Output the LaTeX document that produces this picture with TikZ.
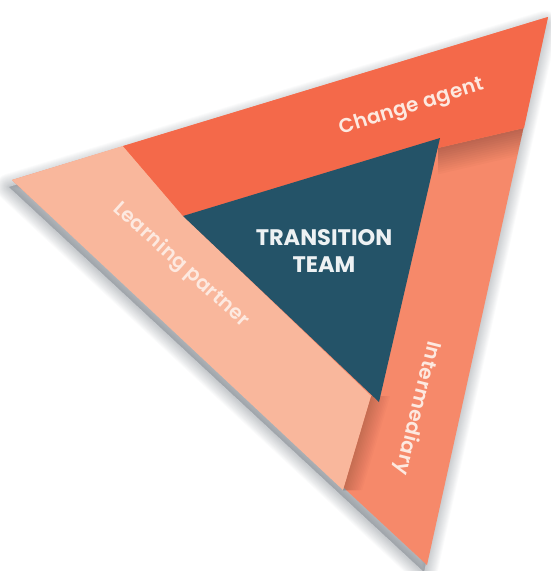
\documentclass[tikz,border=0pt]{standalone}
\usepackage{fontspec}
\newfontfamily\pop{Poppins}[UprightFont=* SemiBold, LetterSpace=2]
\newfontfamily\popb{Poppins}
\definecolor{cagent}{HTML}{F4694A}
\definecolor{lpartner}{HTML}{F9B79C}
\definecolor{interm}{HTML}{F6896A}
\definecolor{teal}{HTML}{245368}
\definecolor{bandtxt}{HTML}{FDE9E0}
\definecolor{shadowc}{HTML}{3A4550}
\tikzset{
  bandtext/.style={font=\pop\fontsize{20}{24}\selectfont, text=bandtxt, inner sep=0pt},
  titletext/.style={font=\popb\bfseries\fontsize{22.5}{27}\selectfont, text=white!92!teal, align=center, inner sep=0pt}
}
\begin{document}
\begin{tikzpicture}[x=1pt,y=-1pt]
\useasboundingbox (0,0) rectangle (551,571);
% corner coordinates
\coordinate (TR) at (548,17);
\coordinate (L) at (12,180);
\coordinate (B) at (427,565);
\coordinate (ca1) at (123,146);
\coordinate (ca2) at (524,128);
\coordinate (ca3) at (438,148);
\coordinate (lp1) at (343,490);
\coordinate (lp2) at (371,396);
\coordinate (tL) at (183,216);
\coordinate (tT) at (440,138);
\coordinate (tB) at (379,402);
% soft drop shadow
\foreach \k in {1,...,14}{
  \filldraw[shadowc, opacity=0.024, line width=\k*1.9pt, line join=round]
    ([shift={(-3,7)}]TR) -- ([shift={(-3,7)}]L) -- ([shift={(-3,7)}]B) -- cycle;
}
% intermediary (base)
\fill[interm] (TR) -- (L) -- (B) -- cycle;
% inner shadows on intermediary
\begin{scope}
  \clip (TR) -- (B) -- (lp1) -- (lp2) -- (tT) -- (ca3) -- (ca2) -- cycle;
  \foreach \i in {1,...,12}{
    \fill[black, opacity=0.018]
      (ca2) -- (ca3) -- ([shift={(0,\i*2.2)}]ca3) -- ([shift={(0,\i*2.2)}]ca2) -- cycle;
    \fill[black, opacity=0.016]
      (lp1) -- (lp2) -- ([shift={(\i*1.6,0)}]lp2) -- ([shift={(\i*1.6,0)}]lp1) -- cycle;
  }
\end{scope}
% learning partner band
\fill[lpartner] (L) -- (lp1) -- (lp2) -- (tL) -- (ca1) -- cycle;
% change agent band
\fill[cagent] (ca1) -- (TR) -- (ca2) -- (ca3) -- (tL) -- cycle;
% transition team triangle
\fill[teal] (tL) -- (tT) -- (tB) -- cycle;
% labels
\node[bandtext, anchor=base, rotate=17.4] (lblca) at (413,112) {Change agent};
\node[bandtext, rotate=-42] (lbllp) at (181,265) {Learning partner};
\node[bandtext, rotate=-104] (lblim) at (417,408) {Intermediary};
\node[titletext] (lbltt) at (324,251) {TRANSITION\\TEAM};
\end{tikzpicture}
\end{document}
